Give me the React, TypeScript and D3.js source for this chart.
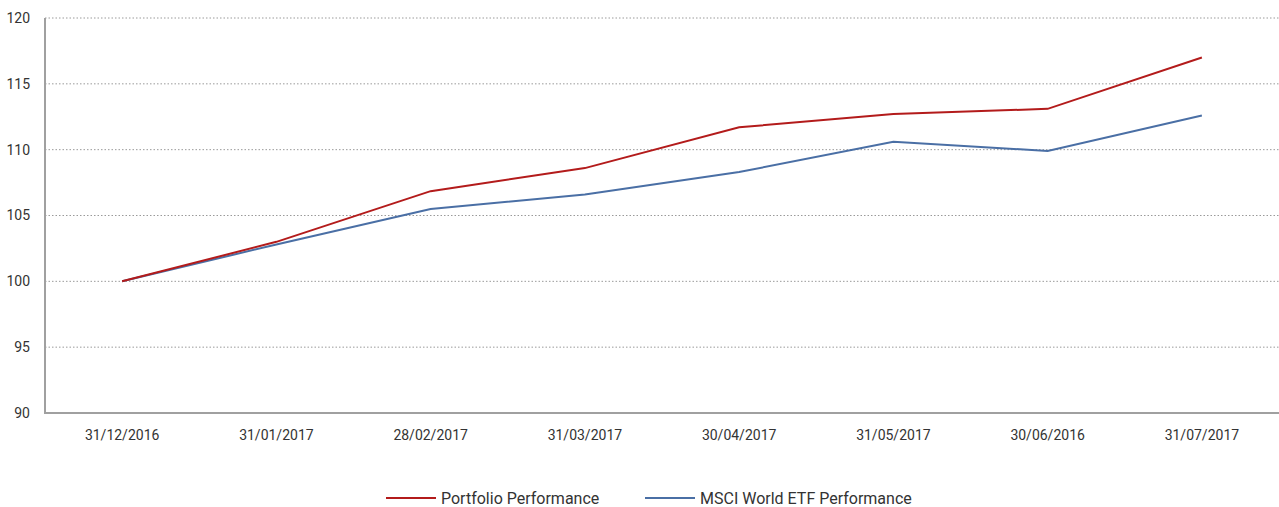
import React, { useEffect, useRef } from 'react';
import * as d3 from 'd3';

const dates = ['31/12/2016', '31/01/2017', '28/02/2017', '31/03/2017', '30/04/2017', '31/05/2017', '30/06/2016', '31/07/2017'];
const portfolio = [100, 103.0, 106.85, 108.6, 111.7, 112.7, 113.1, 117.0];
const msci = [100, 102.8, 105.5, 106.6, 108.3, 110.6, 109.9, 112.6];
const yTicks = [90, 95, 100, 105, 110, 115, 120];

const App = () => {
  const ref = useRef<SVGSVGElement>(null);

  useEffect(() => {
    const width = 1279;
    const height = 507;
    const margin = { top: 18, right: 0, bottom: 94, left: 45 };
    const font = 'Roboto, sans-serif';

    const svg = d3.select(ref.current);
    svg.selectAll('*').remove();

    const x = d3.scaleBand().domain(dates).range([margin.left, width - margin.right]);
    const y = d3.scaleLinear().domain([90, 120]).range([height - margin.bottom, margin.top]);

    // Gridlines
    svg.append('g')
      .selectAll('line')
      .data(yTicks.filter(t => t > 90))
      .enter()
      .append('line')
      .attr('x1', margin.left)
      .attr('x2', width)
      .attr('y1', d => y(d))
      .attr('y2', d => y(d))
      .attr('stroke', '#9a9a9a')
      .attr('stroke-width', 1)
      .attr('stroke-dasharray', '1.5,2');

    // Y labels
    svg.append('g')
      .selectAll('text')
      .data(yTicks)
      .enter()
      .append('text')
      .attr('x', 30)
      .attr('y', d => y(d))
      .attr('dy', '0.35em')
      .attr('text-anchor', 'end')
      .attr('font-family', font)
      .attr('font-size', 14)
      .attr('fill', '#333')
      .text(d => d);

    // X labels
    svg.append('g')
      .selectAll('text')
      .data(dates)
      .enter()
      .append('text')
      .attr('x', d => (x(d) as number) + x.bandwidth() / 2)
      .attr('y', 440)
      .attr('text-anchor', 'middle')
      .attr('font-family', font)
      .attr('font-size', 14)
      .attr('fill', '#333')
      .text(d => d);

    // Axes
    svg.append('line')
      .attr('x1', margin.left).attr('x2', margin.left)
      .attr('y1', y(120)).attr('y2', y(90))
      .attr('stroke', '#a0a0a0').attr('stroke-width', 2);
    svg.append('line')
      .attr('x1', margin.left - 1).attr('x2', width)
      .attr('y1', y(90)).attr('y2', y(90))
      .attr('stroke', '#a0a0a0').attr('stroke-width', 2);

    const line = d3.line<number>()
      .x((_, i) => (x(dates[i]) as number) + x.bandwidth() / 2)
      .y(d => y(d));

    const series = [
      { name: 'MSCI World ETF Performance', values: msci, color: '#4a6fa5' },
      { name: 'Portfolio Performance', values: portfolio, color: '#b31b1b' }
    ];

    series.forEach(s => {
      svg.append('path')
        .datum(s.values)
        .attr('d', line)
        .attr('fill', 'none')
        .attr('stroke', s.color)
        .attr('stroke-width', 2);
    });

    // Legend
    const legend = [
      { name: 'Portfolio Performance', color: '#b31b1b', x: 386 },
      { name: 'MSCI World ETF Performance', color: '#4a6fa5', x: 645 }
    ];
    const lg = svg.append('g').selectAll('g').data(legend).enter().append('g')
      .attr('transform', d => `translate(${d.x}, 498)`);
    lg.append('line')
      .attr('x1', 0).attr('x2', 50)
      .attr('stroke', d => d.color).attr('stroke-width', 2);
    lg.append('text')
      .attr('x', 55)
      .attr('dy', '0.35em')
      .attr('font-family', font)
      .attr('font-size', 16)
      .attr('fill', '#333')
      .text(d => d.name);
  }, []);

  return (
    <svg ref={ref} width={1279} height={507} style={{ position: 'absolute', left: 0, top: 0 }} />
  );
};

export default App;
